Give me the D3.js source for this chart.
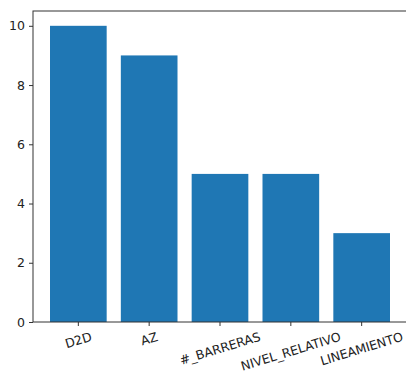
<!DOCTYPE html>
<html>
<head>
<meta charset="utf-8">
<script src="https://cdn.jsdelivr.net/npm/d3@7"></script>
<style>
  html, body { margin: 0; padding: 0; background: #fff; }
  svg { display: block; }
  text { font-family: "DejaVu Sans", sans-serif; fill: #222; }
</style>
</head>
<body>
<svg id="chart" width="406" height="378"></svg>
<script>
// Category counts
const categories = ["D2D", "AZ", "#_BARRERAS", "NIVEL_RELATIVO", "LINEAMIENTO"];
const counts = [10, 9, 5, 5, 3];
const yTicks = [0, 2, 4, 6, 8, 10];

const W = 406, H = 378;
const margin = { left: 33, top: 11, right: -1, bottom: 56 };
const plotW = W - margin.left - margin.right;
const plotH = H - margin.top - margin.bottom;

const svg = d3.select("#chart");
const g = svg.append("g").attr("transform", `translate(${margin.left},${margin.top})`);

// Bar centres at integer positions, width 0.8, 5% padding on each side
const x = d3.scaleLinear().domain([-0.64, categories.length - 1 + 0.64]).range([0, plotW]);
const y = d3.scaleLinear().domain([0, 10.5]).range([plotH, 0]);
const barW = 0.8;

g.selectAll("rect.bar")
  .data(counts)
  .join("rect")
  .attr("class", "bar")
  .attr("x", (d, i) => x(i - barW / 2))
  .attr("width", (d, i) => x(i + barW / 2) - x(i - barW / 2))
  .attr("y", d => y(d))
  .attr("height", d => y(0) - y(d))
  .attr("fill", "#1f77b4");

// Y axis
const yAxis = d3.axisLeft(y).tickValues(yTicks).tickSize(4).tickPadding(4).tickFormat(d3.format("d"));
const yg = g.append("g").call(yAxis);
yg.select(".domain").remove();
yg.selectAll("text").style("font-size", "12.5px").attr("fill", "#222");
yg.selectAll("line").attr("stroke", "#333");

// X axis ticks
const xg = g.append("g").attr("transform", `translate(0,${plotH})`);
xg.selectAll("line")
  .data(categories)
  .join("line")
  .attr("x1", (d, i) => x(i)).attr("x2", (d, i) => x(i))
  .attr("y1", 0).attr("y2", 4)
  .attr("stroke", "#333");

// Rotated category labels, centred under the tick with the top of the rotated box below it
const angle = 17, rad = angle * Math.PI / 180, fs = 12.5;
xg.selectAll("text")
  .data(categories)
  .join("text")
  .text(d => d)
  .style("font-size", fs + "px")
  .attr("text-anchor", "middle")
  .attr("dominant-baseline", "central")
  .each(function (d, i) {
    const w = this.getComputedTextLength();
    const boxH = w * Math.sin(rad) + fs * 0.85 * Math.cos(rad);
    const cy = 9 + boxH / 2;
    d3.select(this).attr("transform", `translate(${x(i)},${cy}) rotate(${-angle})`);
  });

// Frame around the plot area
g.append("rect")
  .attr("x", 0).attr("y", 0)
  .attr("width", plotW).attr("height", plotH)
  .attr("fill", "none")
  .attr("stroke", "#333");
</script>
</body>
</html>
